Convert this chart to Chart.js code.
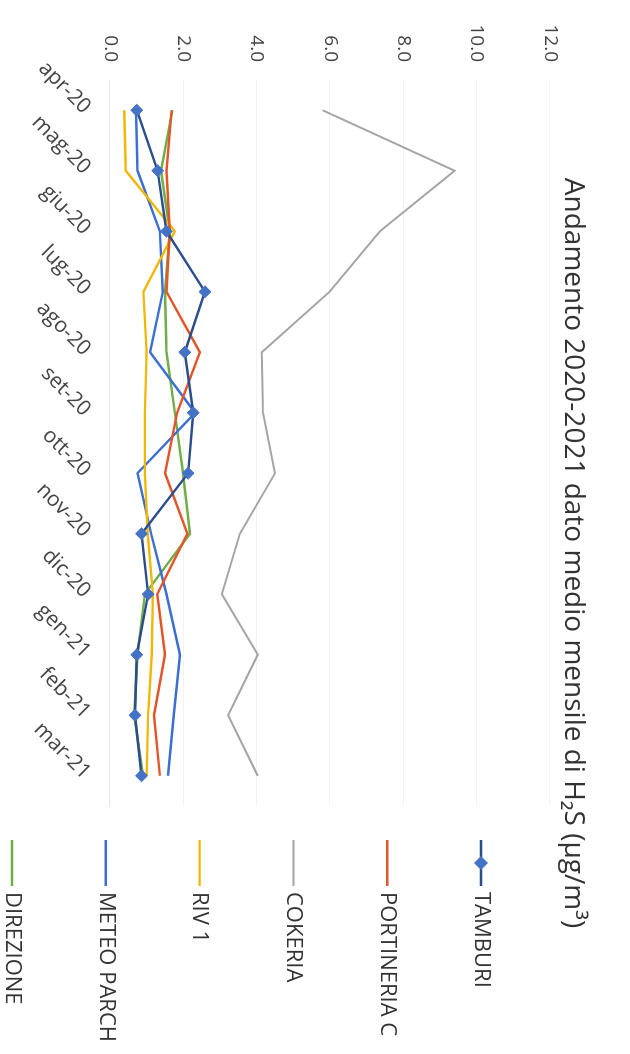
<!DOCTYPE html>
<html>
<head>
<meta charset="utf-8">
<script src="https://cdn.jsdelivr.net/npm/chart.js@4.4.1/dist/chart.umd.min.js"></script>
<style>
  html, body { margin: 0; padding: 0; background: #fff; overflow: hidden; }
  #wrap {
    position: absolute; left: 0; top: 0;
    width: 1054px; height: 630px;
    transform-origin: 0 0;
    transform: translateX(630px) rotate(90deg);
  }
</style>
</head>
<body>
<div id="wrap"><canvas id="lineChart" width="1054" height="630"></canvas></div>
<script>
// monthly mean H2S, µg/m3
const months = ['apr-20', 'mag-20', 'giu-20', 'lug-20', 'ago-20', 'set-20', 'ott-20', 'nov-20', 'dic-20', 'gen-21', 'feb-21', 'mar-21'];
const tamburi     = [0.73, 1.30, 1.54, 2.59, 2.04, 2.27, 2.13, 0.86, 1.04, 0.73, 0.68, 0.86];
const portineria  = [1.68, 1.54, 1.63, 1.54, 2.45, 1.83, 1.50, 2.11, 1.29, 1.50, 1.20, 1.36];
const cokeria     = [5.80, 9.40, 7.36, 5.99, 4.14, 4.17, 4.50, 3.54, 3.05, 4.03, 3.22, 4.03];
const riv1        = [0.39, 0.43, 1.77, 0.91, 1.00, 0.95, 0.95, 1.03, 1.17, 1.14, 1.04, 1.00];
const meteoParch  = [0.71, 0.75, 1.36, 1.44, 1.09, 2.32, 0.75, 1.12, 1.54, 1.91, 1.74, 1.58];
const direzione   = [1.70, 1.39, 1.63, 1.50, 1.54, 1.77, 1.99, 2.18, 0.95, 0.75, 0.66, 0.90];
const yTicks = [0, 2, 4, 6, 8, 10, 12];
const titleText = 'Andamento 2020-2021 dato medio mensile di H₂S (µg/m³)';

Chart.defaults.font.family = '"Open Sans", sans-serif';
Chart.defaults.color = '#555';

function line(label, data, color, extra) {
  return Object.assign({
    label: label,
    data: data,
    borderColor: color,
    backgroundColor: color,
    borderWidth: 2.4,
    pointRadius: 0,
    tension: 0,
    fill: false
  }, extra || {});
}

// title centred over the whole picture, legend down the right side
const decorations = {
  id: 'decorations',
  afterDraw(chart) {
    const ctx = chart.ctx;
    ctx.save();
    ctx.fillStyle = '#333';
    ctx.font = '28px "Open Sans", sans-serif';
    ctx.textAlign = 'center';
    ctx.textBaseline = 'middle';
    ctx.fillText(titleText, 553, 57);

    chart.data.datasets.forEach((ds, i) => {
      const y = 149 + i * 93.8;
      ctx.strokeStyle = ds.borderColor;
      ctx.lineWidth = ds.borderWidth;
      ctx.beginPath();
      ctx.moveTo(840, y);
      ctx.lineTo(886, y);
      ctx.stroke();
      if (ds.pointRadius > 0) {
        ctx.fillStyle = ds.pointBackgroundColor;
        ctx.beginPath();
        ctx.moveTo(863, y - 7);
        ctx.lineTo(870, y);
        ctx.lineTo(863, y + 7);
        ctx.lineTo(856, y);
        ctx.closePath();
        ctx.fill();
      }
      ctx.fillStyle = '#333';
      ctx.font = '22px "Open Sans", sans-serif';
      ctx.textAlign = 'left';
      ctx.fillText(ds.label, 892, y);
    });
    ctx.restore();
  }
};

const ctx = document.getElementById('lineChart').getContext('2d');
const chart = new Chart(ctx, {
  type: 'line',
  data: {
    labels: months,
    datasets: [
      line('TAMBURI', tamburi, '#2B4D8C', {
        pointRadius: 6, pointStyle: 'rectRot',
        pointBackgroundColor: '#4472C4', pointBorderColor: '#4472C4', pointBorderWidth: 1
      }),
      line('PORTINERIA C', portineria, '#E2562A'),
      line('COKERIA', cokeria, '#A5A5A5', { borderWidth: 2 }),
      line('RIV 1', riv1, '#F2B705'),
      line('METEO PARCH', meteoParch, '#3C6FD1'),
      line('DIREZIONE', direzione, '#70AD47')
    ]
  },
  options: {
    responsive: false,
    animation: false,
    devicePixelRatio: 1,
    layout: { padding: { left: 4, right: 248, top: 80, bottom: 0 } },
    plugins: {
      legend: { display: false },
      tooltip: { enabled: false },
      title: { display: false }
    },
    scales: {
      x: {
        offset: true,
        grid: { display: false, drawTicks: false },
        border: { color: '#e6e6e6', width: 1 },
        ticks: {
          maxRotation: 45, minRotation: 45,
          padding: 14,
          color: '#444',
          font: { size: 21 }
        },
        afterFit(scale) { scale.height = 110; }
      },
      y: {
        min: 0,
        max: 12,
        afterBuildTicks(scale) { scale.ticks = yTicks.map(v => ({ value: v })); },
        grid: { color: '#f3f3f3', drawTicks: false },
        border: { display: false },
        ticks: {
          padding: 18,
          color: '#444',
          font: { size: 19 },
          callback: v => Number(v).toFixed(1)
        },
        afterFit(scale) { scale.width = 76; }
      }
    }
  },
  plugins: [decorations]
});
</script>
</body>
</html>
